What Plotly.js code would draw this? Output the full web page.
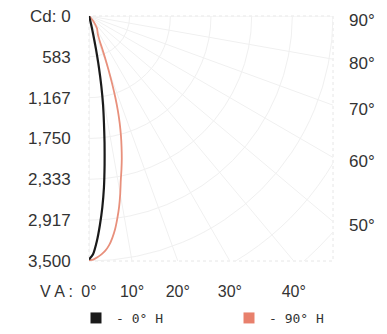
<!DOCTYPE html>
<html><head><meta charset="utf-8">
<script src="https://cdn.plot.ly/plotly-3.0.1.min.js"></script>
<style>html,body{margin:0;padding:0;background:#fff}#chart{width:387px;height:334px}</style>
</head><body><div id="chart"></div>
<script>
// Vertical angle (deg from nadir) and candela
const angles0H   = [0,1,2,3,4,5,6,7,8,9,10,11,12,13,14,15,16,17,20,90];
const candela0H  = [3480,3400,3220,2990,2740,2460,2140,1830,1540,1290,1020,740,470,270,140,60,20,0,0,0];
const angles90H  = [0,1,2,3,4,5,6,7,8,9,10,11,12,13,14,15,16,17,18,19,20,21,22,23,24,26,28,30,33,36,40,45,50,90];
const candela90H = [3490,3480,3450,3410,3360,3290,3190,3070,2920,2760,2580,2390,2240,2090,1930,1770,1600,1420,1220,1010,820,650,510,410,350,290,260,240,210,160,90,30,0,0];
const seriesNames = ["- 0° H", "- 90° H"];
const seriesColors = ["#1a1a1a", "#e8907c"];
const maxCd = 3500;
const cdTicks = [0, 583.33, 1166.67, 1750, 2333.33, 2916.67, 3500];
const cdTickLabels = ["Cd: 0","583","1,167","1,750","2,333","2,917","3,500"];
const vaBottom = [0,10,20,30,40];
const vaRight = [90,80,70,60,50];
const gridAngles = [0,10,20,30,40,50,60,70,80,90];
const gridRadii = [583.33,1166.67,1750,2333.33,2916.67,3500,4083.33,4666.67];

const rad = d => d*Math.PI/180;
function toXY(angles, cd){
  return {x: angles.map((a,i)=>cd[i]*Math.sin(rad(a))), y: angles.map((a,i)=>cd[i]*Math.cos(rad(a)))};
}
const p0 = toXY(angles0H, candela0H);
const p90 = toXY(angles90H, candela90H);

const gridColor = '#f0f0f0';
const shapes = [];
gridRadii.forEach(r=>shapes.push({type:'circle',xref:'x',yref:'y',x0:-r,x1:r,y0:-r,y1:r,line:{color:gridColor,width:1},layer:'below'}));
gridAngles.forEach(a=>shapes.push({type:'line',xref:'x',yref:'y',x0:0,y0:0,x1:6000*Math.sin(rad(a)),y1:6000*Math.cos(rad(a)),line:{color:gridColor,width:1},layer:'below'}));
shapes.push({type:'rect',xref:'paper',yref:'paper',x0:0,x1:1,y0:0,y1:1,line:{color:'#e6e6e6',width:1,dash:'dot'},layer:'below'});

const traces = [
  {x:p90.x,y:p90.y,mode:'lines',line:{color:seriesColors[1],width:1.8,shape:'spline',smoothing:0.6},showlegend:false,hoverinfo:'skip'},
  {x:p0.x,y:p0.y,mode:'lines',line:{color:seriesColors[0],width:2.2,shape:'spline',smoothing:0.6},showlegend:false,hoverinfo:'skip'},
  {x:[null],y:[null],mode:'markers',name:seriesNames[0],legend:'legend',marker:{symbol:'square',size:11,color:seriesColors[0]}},
  {x:[null],y:[null],mode:'markers',name:seriesNames[1],legend:'legend2',marker:{symbol:'square',size:11,color:'#e8806c'}}
];

const annotations = vaRight.map(a=>({
  xref:'paper',x:1,xanchor:'left',xshift:14,yref:'y',y:a>=90?0:maxCd/Math.tan(rad(a)),yshift:-4,
  yanchor:'middle',text:a+'°',showarrow:false,font:{family:'Liberation Sans, Arial',size:17,color:'#333'}
}));
annotations.push({xref:'paper',x:(56-89)/244,xanchor:'center',yref:'paper',y:-(291-261)/245,yanchor:'middle',
  text:'V A :',showarrow:false,font:{family:'Liberation Sans, Arial',size:16,color:'#333'}});

const legendBase = {orientation:'h',xref:'container',yref:'container',xanchor:'left',y:(334-318)/334,yanchor:'middle',
  font:{family:'DejaVu Sans Mono, monospace',size:13,color:'#333'},bgcolor:'rgba(0,0,0,0)'};

const layout = {
  width:387,height:334,margin:{l:89,r:54,t:16,b:73},
  paper_bgcolor:'#fff',plot_bgcolor:'#fff',
  xaxis:{range:[0,maxCd],showgrid:false,zeroline:false,showline:false,automargin:false,
    tickmode:'array',tickvals:vaBottom.map(a=>maxCd*Math.tan(rad(a))),ticktext:vaBottom.map(a=>a+'°'),
    ticks:'outside',ticklen:16,tickcolor:'rgba(0,0,0,0)',
    tickfont:{family:'Liberation Sans, Arial',size:16,color:'#333'},fixedrange:true},
  yaxis:{range:[maxCd,0],showgrid:false,zeroline:false,showline:false,automargin:false,
    tickmode:'array',tickvals:cdTicks,ticktext:cdTickLabels,
    ticks:'outside',ticklen:14,tickcolor:'rgba(0,0,0,0)',
    tickfont:{family:'Liberation Sans, Arial',size:17,color:'#333'},fixedrange:true},
  shapes:shapes,annotations:annotations,
  showlegend:true,
  legend:Object.assign({},legendBase,{x:76/387}),
  legend2:Object.assign({},legendBase,{x:229/387})
};
Plotly.newPlot('chart',traces,layout,{staticPlot:true,displayModeBar:false});
</script></body></html>
